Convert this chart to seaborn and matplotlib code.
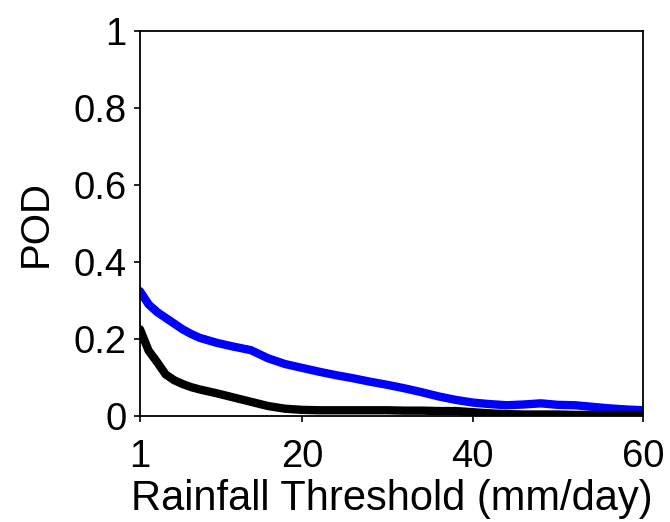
import pandas as pd
import seaborn as sns
import matplotlib.pyplot as plt

# rainfall thresholds (mm/day) and POD
thresholds = [1, 2, 3, 4, 5, 6, 7, 8, 10, 12, 14, 16, 18, 20, 22, 24, 26, 28, 30,
              32, 34, 36, 38, 40, 42, 44, 46, 48, 50, 52, 54, 56, 58, 60]
pod_blue = [0.324, 0.29, 0.27, 0.255, 0.24, 0.225, 0.213, 0.203, 0.19, 0.18, 0.171,
            0.15, 0.135, 0.125, 0.115, 0.106, 0.098, 0.089, 0.081, 0.072, 0.062,
            0.051, 0.042, 0.035, 0.031, 0.028, 0.030, 0.033, 0.029, 0.028, 0.024,
            0.020, 0.017, 0.015]
pod_black = [0.225, 0.17, 0.14, 0.108, 0.093, 0.083, 0.075, 0.069, 0.059, 0.048,
             0.037, 0.026, 0.019, 0.016, 0.015, 0.015, 0.015, 0.015, 0.015, 0.014,
             0.014, 0.013, 0.013, 0.010, 0.007, 0.005, 0.004, 0.004, 0.004, 0.003,
             0.003, 0.003, 0.003, 0.003]
x_ticks = [1, 20, 40, 60]
y_ticks = [0, 0.2, 0.4, 0.6, 0.8, 1]
y_tick_labels = ["0", "0.2", "0.4", "0.6", "0.8", "1"]

df = pd.DataFrame({"threshold": thresholds + thresholds,
                   "pod": pod_blue + pod_black,
                   "series": ["blue"] * len(thresholds) + ["black"] * len(thresholds)})

sns.set_style("ticks")
plt.rcParams["font.family"] = ["Liberation Sans", "DejaVu Sans"]

fig = plt.figure(figsize=(6.7, 5.22), dpi=100)
ax = fig.add_axes([0.209, 0.203, 0.751, 0.738])

sns.lineplot(data=df, x="threshold", y="pod", hue="series",
             palette={"blue": "#0000ff", "black": "#000000"},
             linewidth=6, legend=False, ax=ax)

ax.set_xlim(1, 60)
ax.set_ylim(0, 1)
ax.set_xticks(x_ticks)
ax.set_xticklabels([str(t) for t in x_ticks])
ax.set_yticks(y_ticks)
ax.set_yticklabels(y_tick_labels)
ax.tick_params(direction="out", length=4.5, width=1.2, labelsize=27.5, colors="black")
ax.tick_params(axis="x", pad=12)
ax.tick_params(axis="y", pad=5)
for s in ax.spines.values():
    s.set_visible(True)
    s.set_linewidth(1.3)
    s.set_color("black")
ax.set_xlabel("Rainfall Threshold (mm/day)", fontsize=30, labelpad=3, color="black")
ax.set_ylabel("POD", fontsize=29, labelpad=14, color="black")

fig.savefig("out.png", dpi=100)
